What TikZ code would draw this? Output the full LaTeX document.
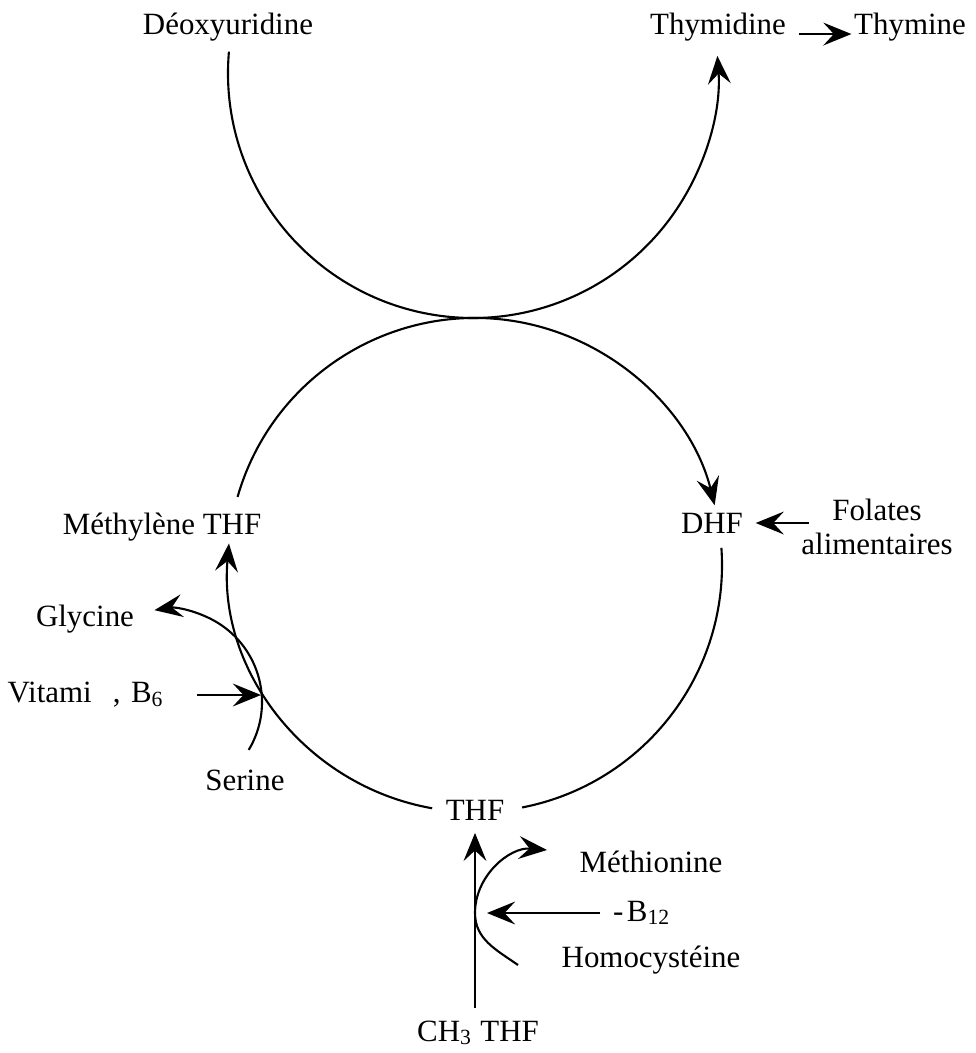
\documentclass[tikz,border=0pt]{standalone}
\usepackage{fontspec}
\setmainfont{Liberation Serif}
\usetikzlibrary{arrows.meta}

\begin{document}
\begin{tikzpicture}[>={Stealth[length=8pt,width=6.5pt,inset=3pt]}, line width=0.6pt,
    every node/.style={font=\fontsize{8.8}{9.6}\selectfont}]
    \useasboundingbox (0,0) rectangle (9.76,-10.53);

    \coordinate (top) at (4.73,-0.73);
    \coordinate (bottom) at (4.75,-5.65);
    \coordinate (side) at (1.69,-7.02);

    \node at (2.28,-0.27) (deoxy) {Déoxyuridine};
    \node at (7.18,-0.27) (thymidine) {Thymidine};
    \node at (9.10,-0.27) (thymine) {Thymine};
    \draw[->, shorten >=-1mm] ([yshift=-2pt]thymidine.east) -- ([yshift=-2pt]thymine.west);
    \draw[->] ([shift={(175:2.45)}]top) arc[start angle=175, end angle=364, radius=2.45];

    \node at (1.62,-5.27) (methylene) {Méthylène THF};
    \node at (7.12,-5.23) (dhf) {DHF};
    \node[align=center] at (8.77,-5.27) (folates) {Folates\\alimentaires};
    \node at (4.75,-8.10) (thf) {THF};
    \draw[->, shorten <=-2mm] (folates.west |- dhf.east) -- (dhf.east);

    \draw[->] ([shift={(164:2.47)}]bottom) arc[start angle=164, end angle=14, radius=2.47];
    \draw ([shift={(4:2.47)}]bottom) arc[start angle=4, end angle=-79, radius=2.47];
    \draw[->] ([shift={(260:2.47)}]bottom) arc[start angle=260, end angle=175, radius=2.47];

    \node at (0.85,-6.19) (glycine) {Glycine};
    \node at (0.86,-6.95) (vitamin) {Vitami\hspace{6pt},\hspace{3pt}B\textsubscript{6}};
    \node at (2.45,-7.80) (serine) {Serine};
    \coordinate (b6) at (2.61,-6.95);
    \draw[->] ([shift={(-31:0.93)}]side) arc[start angle=-31, end angle=99, radius=0.93];
    \draw[->, shorten <=2mm] (vitamin.east) -- (b6);

    \node at (4.78,-10.33) (ch3thf) {CH\textsubscript{3} THF};
    \node at (6.51,-8.62) (methionine) {Méthionine};
    \node at (6.42,-9.13) (b12) {-\kern1pt B\textsubscript{12}};
    \node at (6.51,-9.60) (homocysteine) {Homocystéine};
    \coordinate (hcy) at (5.18,-9.65);
    \coordinate (met) at (5.47,-8.50);
    \coordinate (b12tip) at (4.87,-9.13);
    \draw[->] (thf.south |- ch3thf.north) -- (thf.south);
    \draw[->] (hcy) to[out=145, in=-90] (4.75,-9.13) to[out=90, in=175] (met);
    \draw[->] (b12.west) -- (b12tip);
\end{tikzpicture}
\end{document}
